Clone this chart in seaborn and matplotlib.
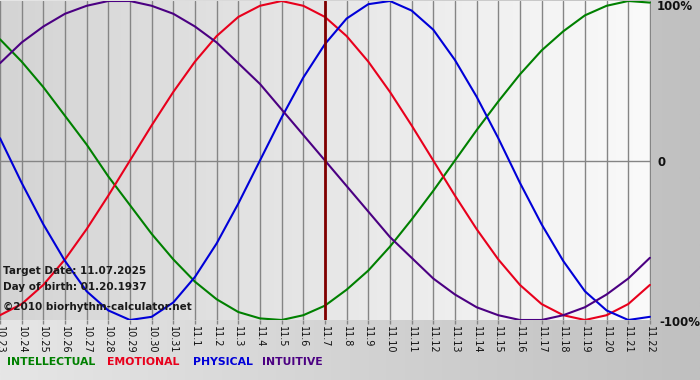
import numpy as np
import pandas as pd
import matplotlib
matplotlib.use("Agg")
import matplotlib.pyplot as plt
import seaborn as sns
from matplotlib.colors import LinearSegmentedColormap

# ---- data ----
dates = ["10.23", "10.24", "10.25", "10.26", "10.27", "10.28", "10.29", "10.30", "10.31",
         "11.1", "11.2", "11.3", "11.4", "11.5", "11.6", "11.7", "11.8", "11.9", "11.10",
         "11.11", "11.12", "11.13", "11.14", "11.15", "11.16", "11.17", "11.18", "11.19",
         "11.20", "11.21", "11.22"]
intellectual = [0.76, 0.62, 0.46, 0.28, 0.10, -0.10, -0.28, -0.46, -0.62, -0.76, -0.87,
                -0.95, -0.99, -1.00, -0.97, -0.91, -0.81, -0.69, -0.54, -0.37, -0.19, 0.00,
                0.19, 0.37, 0.54, 0.69, 0.81, 0.91, 0.97, 1.00, 0.99]
emotional = [-0.97, -0.90, -0.78, -0.62, -0.43, -0.22, 0.00, 0.22, 0.43, 0.62, 0.78, 0.90,
             0.97, 1.00, 0.97, 0.90, 0.78, 0.62, 0.43, 0.22, 0.00, -0.22, -0.43, -0.62,
             -0.78, -0.90, -0.97, -1.00, -0.97, -0.90, -0.78]
physical = [0.14, -0.14, -0.40, -0.63, -0.82, -0.94, -1.00, -0.98, -0.89, -0.73, -0.52,
            -0.27, 0.00, 0.27, 0.52, 0.73, 0.89, 0.98, 1.00, 0.94, 0.82, 0.63, 0.40, 0.14,
            -0.14, -0.40, -0.63, -0.82, -0.94, -1.00, -0.98]
intuitive = [0.61, 0.74, 0.84, 0.92, 0.97, 1.00, 1.00, 0.97, 0.92, 0.84, 0.74, 0.61, 0.48,
             0.32, 0.16, 0.00, -0.16, -0.32, -0.48, -0.61, -0.74, -0.84, -0.92, -0.97,
             -1.00, -1.00, -0.97, -0.92, -0.84, -0.74, -0.61]
series_names = ["INTELLECTUAL", "EMOTIONAL", "PHYSICAL", "INTUITIVE"]
series_colors = ["#008000", "#e8001c", "#0000d8", "#4b0082"]
target_index = 15
target_text = "Target Date: 11.07.2025"
birth_text = "Day of birth: 01.20.1937"
credit_text = "\u00a92010 biorhythm-calculator.net"

rows = []
for name, vals in zip(series_names, [intellectual, emotional, physical, intuitive]):
    for i, v in enumerate(vals):
        rows.append({"day": i, "value": v, "series": name})
df = pd.DataFrame(rows)

sns.set_theme(style="white")
plt.rcParams["font.family"] = ["DejaVu Sans"]

W, H = 700, 380
fig = plt.figure(figsize=(W / 100, H / 100), dpi=100)

# figure background gradient
bg = fig.add_axes([0, 0, 1, 1], zorder=-10)
bg_cmap = LinearSegmentedColormap.from_list("bg", ["#e6e6e6", "#c0c0c0"])
bg.imshow(np.linspace(0, 1, 256)[None, :], aspect="auto", cmap=bg_cmap,
          extent=[0, 1, 0, 1])
bg.set_axis_off()

left, right, top, bottom = 0, 651, 1, 320
ax = fig.add_axes([left / W, 1 - bottom / H, (right - left) / W, (bottom - top) / H])
ax.set_xlim(0, 30.05)
ax.set_ylim(-1.0, 1.0)

pl_cmap = LinearSegmentedColormap.from_list("pl", ["#d4d4d4", "#fafafa"])
ax.imshow(np.linspace(0, 1, 256)[None, :], aspect="auto", cmap=pl_cmap,
          extent=[0, 30.05, -1.0, 1.0], zorder=0)

for d in range(len(dates)):
    ax.axvline(d, color="#858585", lw=1.0, zorder=1)
ax.axhline(0, color="#858585", lw=1.0, zorder=1)

sns.lineplot(data=df, x="day", y="value", hue="series", hue_order=series_names,
             palette=series_colors, lw=1.5, ax=ax, legend=False, zorder=3,
             estimator=None, sort=False)

ax.axvline(target_index, color="#800000", lw=2.0, zorder=4)

for s in ax.spines.values():
    s.set_visible(False)
ax.set_xlabel("")
ax.set_ylabel("")
ax.set_yticks([])
ax.set_xticks(range(len(dates)))
ax.set_xticklabels(dates, rotation=270, fontsize=7, color="#111111")
ax.tick_params(axis="x", length=3, width=1, color="#858585", pad=1, bottom=True)
ax.set_facecolor("none")

# text in plot
tk = dict(fontsize=7.5, fontweight="bold", color="#1a1a1a", ha="left", va="center")
fig.text(3 / W, 1 - 271 / H, target_text, **tk)
fig.text(3 / W, 1 - 287 / H, birth_text, **tk)
fig.text(3 / W, 1 - 307 / H, credit_text, **tk)

# right labels
rk = dict(fontsize=8.5, fontweight="bold", color="#111111", ha="left", va="center")
fig.text(657 / W, 1 - 7 / H, "100%", **rk)
fig.text(657 / W, 1 - 162 / H, "0", **rk)
fig.text(659 / W, 1 - 322 / H, "-100%", **rk)

# legend texts
lx = [7, 107, 193, 262]
for name, col, x in zip(series_names, series_colors, lx):
    fig.text(x / W, 1 - 362 / H, name, fontsize=7.8, fontweight="bold", color=col,
             ha="left", va="center")

fig.savefig("out.png", dpi=100)
